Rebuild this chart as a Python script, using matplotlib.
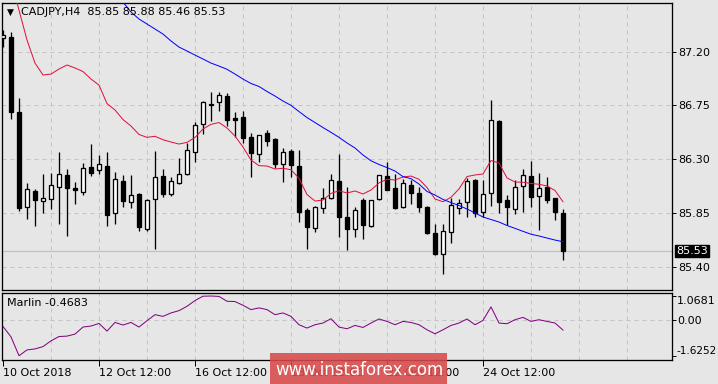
import matplotlib
matplotlib.use("Agg")
import matplotlib.pyplot as plt
from matplotlib.patches import Rectangle
import numpy as np

# ---------------- data ----------------
title_text = "CADJPY,H4  85.85 85.88 85.46 85.53"
indicator_label = "Marlin -0.4683"
last_price = 85.53

opens = [87.315, 87.320, 86.693, 85.902, 86.031, 85.953, 85.964, 86.070, 86.165, 86.059,
         86.028, 86.235, 86.207, 86.243, 85.847, 86.115, 85.944, 86.009, 85.718, 85.964,
         86.159, 86.006, 86.103, 86.176, 86.363, 86.592, 86.756, 86.776, 86.829, 86.645,
         86.651, 86.486, 86.341, 86.517, 86.469, 86.257, 86.369, 86.243, 85.872, 85.721,
         85.889, 85.978, 86.118, 85.816, 85.713, 85.958, 85.743, 85.964, 86.159, 86.059,
         85.902, 86.084, 86.017, 85.900, 85.680, 85.504, 85.688, 85.889, 85.944, 86.123,
         85.860, 86.014, 86.620, 85.956, 85.885, 86.073, 86.157, 85.994, 86.065, 85.973,
         85.85]
highs = [87.382, 87.362, 86.810, 86.098, 86.050, 86.176, 86.182, 86.360, 86.218, 86.107,
         86.266, 86.427, 86.335, 86.360, 86.195, 86.168, 86.168, 86.015, 85.964, 86.369,
         86.218, 86.148, 86.310, 86.438, 86.612, 86.785, 86.863, 86.863, 86.857, 86.693,
         86.704, 86.517, 86.505, 86.545, 86.475, 86.394, 86.383, 86.377, 85.889, 85.908,
         86.059, 86.176, 86.344, 86.067, 85.902, 85.973, 85.960, 86.170, 86.274, 86.179,
         86.132, 86.126, 86.070, 85.905, 85.757, 85.757, 85.973, 85.967, 86.140, 86.132,
         86.126, 86.796, 86.628, 85.998, 86.126, 86.218, 86.282, 86.184, 86.151, 85.978,
         85.88]
lows = [87.239, 86.634, 85.869, 85.799, 85.741, 85.852, 85.883, 85.760, 85.660, 85.927,
        86.003, 86.162, 86.176, 85.743, 85.755, 85.902, 85.889, 85.701, 85.701, 85.551,
        85.981, 85.995, 86.095, 86.170, 86.279, 86.513, 86.620, 86.706, 86.578, 86.488,
        86.438, 86.148, 86.274, 86.413, 86.224, 86.112, 86.148, 85.774, 85.551, 85.688,
        85.852, 85.969, 85.651, 85.542, 85.651, 85.634, 85.735, 85.960, 86.040, 85.885,
        85.894, 85.925, 85.860, 85.676, 85.500, 85.341, 85.596, 85.844, 85.814, 85.819,
        85.819, 85.911, 85.847, 85.752, 85.839, 85.858, 85.902, 85.710, 85.936, 85.791,
        85.46]
closes = [87.340, 86.698, 85.894, 86.048, 85.958, 85.973, 86.084, 86.174, 86.061, 86.045,
          86.226, 86.187, 86.257, 85.835, 86.132, 85.953, 86.000, 85.735, 85.958, 86.148,
          86.011, 86.115, 86.174, 86.374, 86.584, 86.779, 86.762, 86.835, 86.626, 86.631,
          86.475, 86.354, 86.500, 86.450, 86.262, 86.357, 86.254, 85.860, 85.735, 85.900,
          85.975, 86.123, 85.819, 85.718, 85.872, 85.752, 85.956, 86.165, 86.045, 85.894,
          86.098, 86.019, 85.902, 85.685, 85.509, 85.696, 85.914, 85.931, 86.115, 85.852,
          86.006, 86.626, 85.944, 85.897, 86.065, 86.165, 85.981, 86.056, 85.958, 85.860,
          85.53]

# fast moving average (red), starts at bar 1
ma_fast_start = 1
ma_fast = [87.800, 87.549, 87.298, 87.105, 87.005, 87.013, 87.055, 87.089, 87.064, 87.034,
           86.971, 86.921, 86.766, 86.712, 86.632, 86.578, 86.507, 86.483, 86.492, 86.463,
           86.444, 86.427, 86.441, 86.482, 86.553, 86.592, 86.607, 86.561, 86.494, 86.402,
           86.293, 86.246, 86.243, 86.218, 86.224, 86.212, 86.140, 86.004, 85.950, 85.958,
           86.014, 86.036, 86.017, 86.034, 86.009, 86.042, 86.101, 86.132, 86.126, 86.151,
           86.159, 86.132, 86.063, 85.967, 85.944, 85.981, 86.051, 86.155, 86.168, 86.176,
           86.289, 86.268, 86.143, 86.109, 86.107, 86.097, 86.090, 86.076, 86.038, 85.944]

# slow moving average (blue), starts at bar 14
ma_slow_start = 14
ma_slow = [87.675, 87.616, 87.532, 87.474, 87.432, 87.390, 87.348, 87.290, 87.239, 87.206,
           87.172, 87.139, 87.105, 87.080, 87.053, 87.013, 86.971, 86.934, 86.909, 86.867,
           86.829, 86.787, 86.751, 86.699, 86.649, 86.607, 86.565, 86.525, 86.483, 86.436,
           86.394, 86.335, 86.287, 86.256, 86.230, 86.201, 86.154, 86.137, 86.092, 86.030,
           86.000, 85.963, 85.937, 85.912, 85.883, 85.850, 85.816, 85.795, 85.774, 85.745,
           85.721, 85.696, 85.672, 85.657, 85.640, 85.623, 85.609]

marlin = [-0.305, -0.773, -1.6252, -1.364, -1.318, -1.214, -0.955, -0.759, -0.741, -0.650,
          -0.332, -0.286, -0.168, -0.514, -0.123, -0.241, -0.123, -0.332, -0.045, 0.227,
          0.150, 0.305, 0.409, 0.605, 0.864, 1.060, 1.0681, 1.050, 0.832, 0.818,
          0.650, 0.455, 0.532, 0.455, 0.227, 0.305, 0.150, -0.227, -0.377, -0.227,
          -0.150, 0.045, -0.332, -0.409, -0.259, -0.350, -0.150, 0.032, -0.077, -0.227,
          -0.077, -0.123, -0.227, -0.455, -0.636, -0.455, -0.259, -0.150, 0.032, -0.227,
          -0.032, 0.577, -0.150, -0.182, 0.000, 0.105, -0.077, 0.000, -0.077, -0.150,
          -0.4683]

price_ticks = [85.40, 85.85, 86.30, 86.75, 87.20]
marlin_ticks = [-1.6252, 0.00, 1.0681]
marlin_tick_labels = ["-1.6252", "0.00", "1.0681"]
date_tick_bars = [0, 12, 24, 36, 48, 60]
date_labels = ["10 Oct 2018", "12 Oct 12:00", "16 Oct 12:00", "18 Oct 12:00",
               "22 Oct 12:00", "24 Oct 12:00"]
watermark = "www.instaforex.com"

# ---------------- styling ----------------
BG = "#e6e6e6"
GRID = "#c4c4c4"
W, H = 718, 384
px = 0.72  # one pixel in points at dpi 100

fig = plt.figure(figsize=(W / 100, H / 100), dpi=100, facecolor=BG)

def fr(x0, y0, x1, y1):
    return [x0 / W, 1 - y1 / H, (x1 - x0) / W, (y1 - y0) / H]

ax = fig.add_axes(fr(2, 3, 672, 289.5))
axm = fig.add_axes(fr(2, 292.5, 672, 360))

n = len(opens)
xi = np.arange(n)
xlim = (-0.125, 83.625)

for a in (ax, axm):
    a.set_facecolor(BG)
    a.set_xlim(*xlim)
    for s in a.spines.values():
        s.set_color("black")
        s.set_linewidth(1.3 * px)
    a.tick_params(axis="both", which="both", length=0, labelsize=8)
    a.set_xticks([])
    grid_x = np.arange(6, 84, 6)
    for g in grid_x:
        a.axvline(g, color=GRID, lw=px, ls=(0, (4, 4)), zorder=0)

# ---- main price panel ----
ax.set_ylim(85.209, 87.608)
for t in price_ticks:
    ax.axhline(t, color=GRID, lw=px, ls=(0, (4, 4)), zorder=0)
ax.axhline(last_price, color="#c0c0c0", lw=1.2 * px, zorder=0.5)

o = np.array(opens); h = np.array(highs); l = np.array(lows); c = np.array(closes)
ax.vlines(xi, l, h, color="black", lw=1.3 * px, zorder=2)
up = c >= o
body_bottom = np.minimum(o, c)
body_h = np.abs(c - o)
ax.bar(xi[up], body_h[up], bottom=body_bottom[up], width=0.55, facecolor="white",
       edgecolor="black", linewidth=1.3 * px, zorder=3)
ax.bar(xi[~up], body_h[~up], bottom=body_bottom[~up], width=0.55, facecolor="black",
       edgecolor="black", linewidth=1.3 * px, zorder=3)

ax.plot(np.arange(ma_fast_start, ma_fast_start + len(ma_fast)), ma_fast,
        color="#e0103c", lw=1.0 * px, zorder=4)
ax.plot(np.arange(ma_slow_start, ma_slow_start + len(ma_slow)), ma_slow,
        color="#0000ff", lw=1.0 * px, zorder=4)

ax.yaxis.tick_right()
ax.set_yticks(price_ticks)
ax.set_yticklabels([f"{t:.2f}" for t in price_ticks])
ax.tick_params(axis="y", length=3, width=px, pad=1.5, labelsize=8, colors="black")

# last price box
ax.text(1.006, (last_price - 85.209) / (87.608 - 85.209), f"{last_price:.2f}",
        transform=ax.transAxes, ha="left", va="center", fontsize=8, color="white",
        bbox=dict(boxstyle="square,pad=0.12", facecolor="black", edgecolor="black"),
        zorder=10, clip_on=False)

fig.text(7 / W, 1 - 12.5 / H, "▼", fontsize=6.5, color="black", va="center", ha="left")
fig.text(21 / W, 1 - 12 / H, title_text, fontsize=8, color="black", va="center", ha="left")

# ---- Marlin panel ----
axm.set_ylim(-1.818, 1.227)
axm.axhline(0, color=GRID, lw=px, ls=(0, (4, 4)), zorder=0)
axm.plot(xi, marlin, color="#800080", lw=1.0 * px, zorder=3)
axm.yaxis.tick_right()
axm.set_yticks(marlin_ticks)
axm.set_yticklabels(marlin_tick_labels)
axm.tick_params(axis="y", length=3, width=px, pad=0.5, labelsize=8, colors="black")
labs = axm.get_yticklabels()
labs[0].set_va("bottom")
labs[0].set_fontsize(7.6)
labs[2].set_va("top")
axm.text(7 / W, 1 - 303 / H, indicator_label, transform=fig.transFigure,
         fontsize=8, color="black", va="center", ha="left")

axm.set_xticks(date_tick_bars)
axm.set_xticklabels(date_labels, ha="left")
axm.tick_params(axis="x", length=4, width=px, pad=2, labelsize=8, colors="black")

# watermark
fig.patches.append(Rectangle((270 / W, 0), (447 - 270) / W, (384 - 353) / H,
                             transform=fig.transFigure, facecolor="#d94a4a",
                             alpha=0.88, edgecolor="none", zorder=20))
fig.text(359 / W, 1 - 370 / H, watermark, fontsize=12, color="white", ha="center",
         va="center", zorder=21)

fig.savefig("out.png", dpi=100, facecolor=BG)
